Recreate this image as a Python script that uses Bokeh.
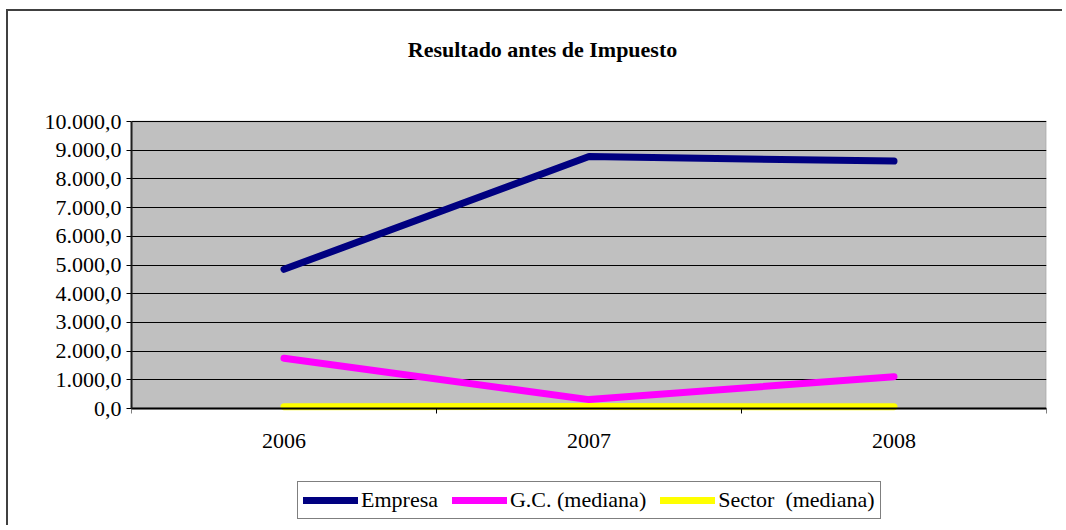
from bokeh.plotting import figure
from bokeh.models import (Range1d, FixedTicker, Legend, LegendItem, ColumnDataSource,
                          Label, BoxAnnotation)
from bokeh.embed import file_html
from bokeh.resources import INLINE

years = ["2006", "2007", "2008"]
empresa = [4850.0, 8780.0, 8620.0]
gc_mediana = [1750.0, 310.0, 1110.0]
sector_mediana = [60.0, 70.0, 60.0]
y_ticks = [0, 1000, 2000, 3000, 4000, 5000, 6000, 7000, 8000, 9000, 10000]
title_text = "Resultado antes de Impuesto"
legend_labels = ["Empresa", "G.C. (mediana)", "Sector  (mediana)"]

FONT = "Liberation Serif"
FS = "22px"
Y_MAX = 10000
# visible range: extra room above (title) and below (labels, legend) the plot area
VIEW_BOTTOM = -4146
VIEW_TOP = 13833

xpos = [i + 0.5 for i in range(len(years))]

def fmt(v):
    s = f"{v:,.1f}"
    return s.replace(",", "#").replace(".", ",").replace("#", ".")

p = figure(width=1056, height=516, output_backend="svg", toolbar_location=None,
           x_range=Range1d(0, len(years)), y_range=Range1d(VIEW_BOTTOM, VIEW_TOP),
           min_border_left=123, min_border_right=18, min_border_top=0,
           min_border_bottom=0)
p.styles = {"border-left": "2px solid #404040", "border-top": "2px solid #404040",
            "margin-left": "6px", "margin-top": "9px"}

p.background_fill_color = "white"
p.border_fill_color = "white"
p.outline_line_color = None

plot_area = BoxAnnotation(left=0, right=len(years), bottom=0, top=Y_MAX,
                          fill_color="#C0C0C0", fill_alpha=1.0,
                          line_color="#808080", line_width=2, level="image")
p.add_layout(plot_area)

title = Label(x=411, y=478, x_units="screen", y_units="screen", text=title_text,
              text_align="center", text_baseline="middle",
              text_font=FONT, text_font_size=FS, text_font_style="bold",
              text_color="black")
p.add_layout(title)

# grid
p.xgrid.grid_line_color = None
p.ygrid.grid_line_color = "black"
p.ygrid.grid_line_width = 1
p.ygrid.ticker = FixedTicker(ticks=y_ticks)

# y axis
p.yaxis.ticker = FixedTicker(ticks=y_ticks)
p.yaxis.bounds = (0, Y_MAX)
p.yaxis.major_label_overrides = {v: fmt(v) for v in y_ticks}
p.yaxis.major_label_text_font = FONT
p.yaxis.major_label_text_font_size = FS
p.yaxis.major_label_text_color = "black"
p.yaxis.axis_line_color = "#202020"
p.yaxis.axis_line_width = 2
p.yaxis.major_tick_out = 5
p.yaxis.major_tick_in = 0
p.yaxis.minor_tick_out = 0
p.yaxis.minor_tick_in = 0
p.yaxis.major_tick_line_color = "black"
p.yaxis.major_label_standoff = 5

# x axis at y = 0
p.xaxis.fixed_location = 0
p.xaxis.ticker = FixedTicker(ticks=xpos, minor_ticks=list(range(len(years) + 1)))
p.xaxis.major_label_overrides = {x: y for x, y in zip(xpos, years)}
p.xaxis.major_label_text_font = FONT
p.xaxis.major_label_text_font_size = FS
p.xaxis.major_label_text_color = "black"
p.xaxis.axis_line_color = "black"
p.xaxis.axis_line_width = 2
p.xaxis.major_tick_out = 0
p.xaxis.major_tick_in = 0
p.xaxis.minor_tick_out = 5
p.xaxis.minor_tick_in = 0
p.xaxis.minor_tick_line_color = "black"
p.xaxis.major_label_standoff = 20

src = ColumnDataSource(dict(x=xpos, emp=empresa, gc=gc_mediana, sec=sector_mediana))
r1 = p.line("x", "emp", source=src, line_color="#000080", line_width=7, line_cap="round")
r2 = p.line("x", "gc", source=src, line_color="#FF00FF", line_width=7, line_cap="round")
r3 = p.line("x", "sec", source=src, line_color="#FFFF00", line_width=7, line_cap="round")

legend = Legend(items=[LegendItem(label=legend_labels[0], renderers=[r1]),
                       LegendItem(label=legend_labels[1], renderers=[r2]),
                       LegendItem(label=legend_labels[2], renderers=[r3])],
                orientation="horizontal", location=(166, 8),
                label_text_font=FONT, label_text_font_size=FS,
                label_text_color="black", glyph_width=55, glyph_height=20,
                label_standoff=3, spacing=14, padding=5, margin=0,
                border_line_color="black", border_line_width=1,
                background_fill_color="white", background_fill_alpha=1.0,
                label_height=26)
p.add_layout(legend, "center")

open("out.html", "w").write(file_html(p, INLINE))
